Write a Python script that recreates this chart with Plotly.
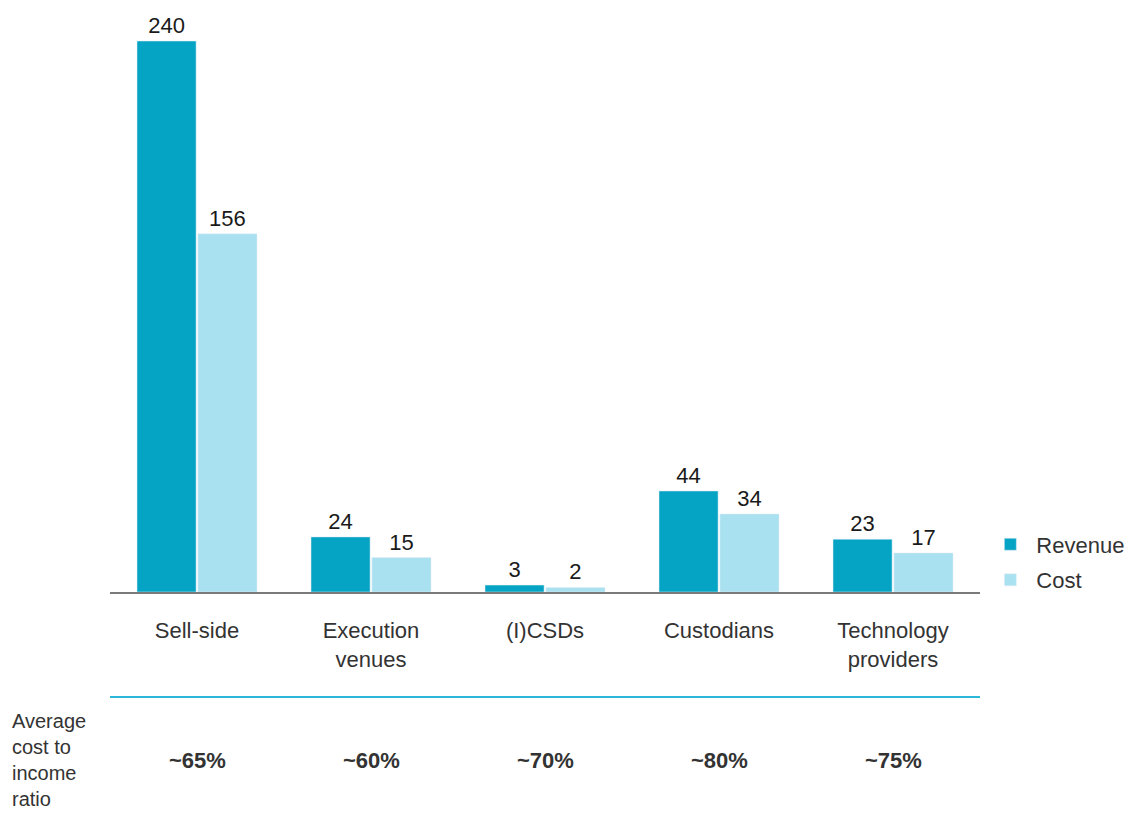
import plotly.graph_objects as go

categories = ["Sell-side", "Execution<br>venues", "(I)CSDs", "Custodians", "Technology<br>providers"]
revenue = [240, 24, 3, 44, 23]
cost = [156, 15, 2, 34, 17]
ratios = ["~65%", "~60%", "~70%", "~80%", "~75%"]

REV_COLOR = "#06a4c4"
COST_COLOR = "#a9e1f0"
FONT = "Liberation Sans, Arial, sans-serif"
FS = 22

fig = go.Figure()
fig.add_trace(go.Bar(name="Revenue", x=categories, y=revenue, marker_color=REV_COLOR,
                     text=[str(v) for v in revenue], textposition="outside",
                     textfont=dict(size=FS, color="#1a1a1a"), cliponaxis=False,
                     legendgroup="rev"))
fig.add_trace(go.Bar(name="Cost", x=categories, y=cost, marker_color=COST_COLOR,
                     text=[str(v) for v in cost], textposition="outside",
                     textfont=dict(size=FS, color="#1a1a1a"), cliponaxis=False,
                     legendgroup="cost"))

# ratio row
for c, r in zip(categories, ratios):
    fig.add_annotation(x=c, xref="x", y=-0.299, yref="paper", yanchor="middle",
                       text="<b>" + r + "</b>",
                       showarrow=False, font=dict(size=FS, color="#333333"))

fig.add_annotation(x=-0.115, xref="paper", y=-0.207, yref="paper", xanchor="left", yanchor="top",
                   text="Average<br>cost to<br>income<br>ratio", align="left", showarrow=False,
                   font=dict(size=20, color="#333333"))

# separator line
fig.add_shape(type="line", xref="paper", yref="paper", x0=0, x1=1, y0=-0.187, y1=-0.187,
              line=dict(color="#2ab7d8", width=2))

fig.update_layout(
    width=1128, height=802,
    margin=dict(l=102, r=156, t=22, b=218, autoexpand=False),
    paper_bgcolor="white", plot_bgcolor="white",
    font=dict(family=FONT, size=FS, color="#333333"),
    barmode="group", bargap=0.3, bargroupgap=0.03,
    showlegend=True,
    legend=dict(x=1.005, y=0.122, xanchor="left", yanchor="top",
                font=dict(size=FS, color="#333333"), itemwidth=42,
                traceorder="grouped", tracegroupgap=4),
    xaxis=dict(showline=True, linecolor="#7a7a7a", linewidth=2, ticks="",
               tickfont=dict(size=FS, color="#333333"), ticklabelstandoff=18),
    yaxis=dict(range=[0, 244.8], visible=False, showgrid=False, zeroline=False),
)

fig.write_html("out.html")
